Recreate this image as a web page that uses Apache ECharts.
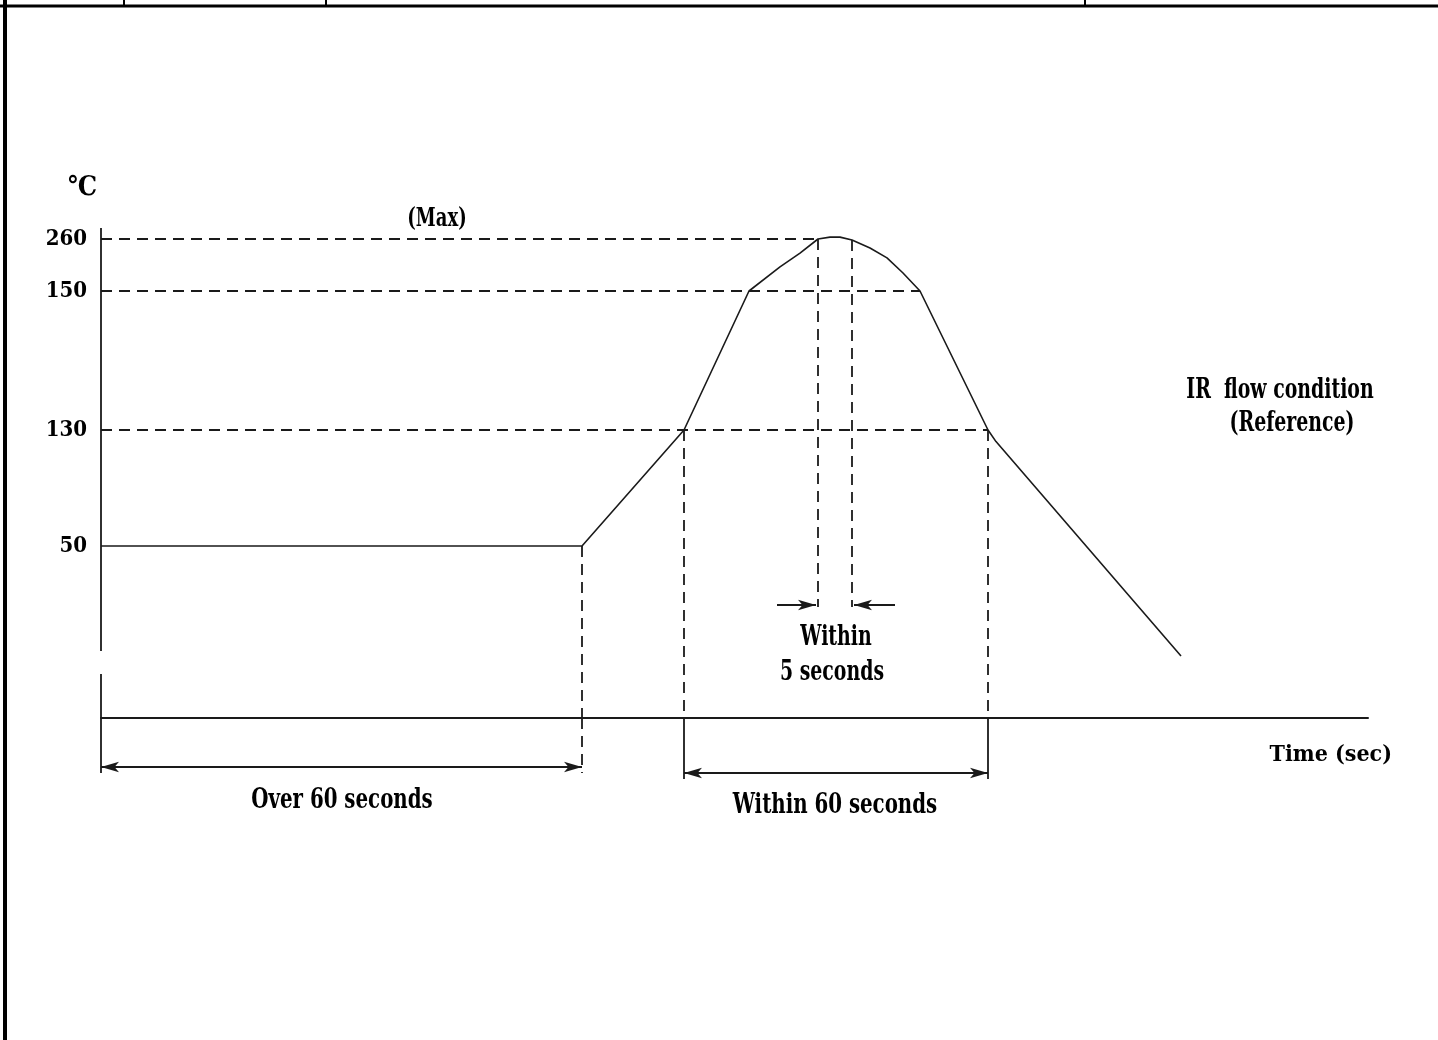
<!DOCTYPE html>
<html><head><meta charset="utf-8">
<script src="https://cdn.jsdelivr.net/npm/echarts@6/dist/echarts.min.js"></script>
<style>html,body{margin:0;padding:0;background:#fff}#c{width:1438px;height:1040px}</style>
</head><body><div id="c"></div>
<script>
// ---------------- data ----------------
const timeSec = [0, 48.1, 58.3, 64.8, 67.9, 69.9, 71.7, 72.9, 73.9, 75.1, 76.9, 78.6, 80.2, 81.9, 88.7, 89.5, 108.0];
const tempC   = [50, 50, 130, 150, 201, 230, 260, 264, 264, 258, 241, 220, 188, 150, 130, 122, 18];
const tempTicks = [260, 150, 130, 50];
const guideTemps = [260, 150, 130];
const guideEndTime = [71.7, 81.9, 88.7];
const markerTime = [48.1, 58.3, 71.7, 75.1, 88.7];
const markerTemp = [50, 130, 260, 258, 130];
const spanOver60 = [0, 48.1];
const spanWithin60 = [58.3, 88.7];
const spanWithin5 = [71.7, 75.1];

// ---------------- schematic (non-linear) temperature scale ----------------
const SCALE_T = [0, 50, 130, 150, 260];
const SCALE_L = [0, 172, 288, 427, 479];
function lvl(t) {
  const n = SCALE_T.length;
  for (let i = 1; i < n; i++) {
    if (t <= SCALE_T[i] || i === n - 1) {
      const f = (t - SCALE_T[i - 1]) / (SCALE_T[i] - SCALE_T[i - 1]);
      return SCALE_L[i - 1] + f * (SCALE_L[i] - SCALE_L[i - 1]);
    }
  }
}

// layout constants (in level units of the y axis)
const DIM_OVER = -49, DIM_W60 = -55, DIM_W5 = 113;
const BREAK_LO = 44, BREAK_HI = 67, AXIS_TOP = 490;

const INK = '#1a1a1a';
const FONT = '"DejaVu Serif Condensed","DejaVu Serif","Liberation Serif",serif';
const dashed = { color: INK, width: 1.8, type: [11, 7] };
const solid = { color: INK, width: 1.8, type: 'solid' };

const chart = echarts.init(document.getElementById('c'));

const curve = timeSec.map((t, i) => [t, lvl(tempC[i])]);

function seg(a, b, style, s1, s2, size) {
  return [
    { coord: a, lineStyle: style, symbol: s1 || 'none', symbolSize: size || [8, 18] },
    { coord: b, symbol: s2 || 'none', symbolSize: size || [8, 18] }
  ];
}

const guideLines = [];
guideTemps.forEach((T, i) => guideLines.push(seg([0, lvl(T)], [guideEndTime[i], lvl(T)], dashed)));
markerTime.forEach((t, i) => {
  const top = lvl(markerTemp[i]);
  const inW5 = (t === spanWithin5[0] || t === spanWithin5[1]);
  guideLines.push(seg([t, top], [t, inW5 ? DIM_W5 - 2 : 0], dashed));
});

const frameLines = [];
// schematic y axis with a break
frameLines.push(seg([0, 0], [0, BREAK_LO], solid));
frameLines.push(seg([0, BREAK_HI], [0, AXIS_TOP], solid));
// extension lines below the time axis
frameLines.push(seg([spanOver60[0], 0], [spanOver60[0], DIM_OVER - 6], solid));
frameLines.push(seg([spanOver60[1], 0], [spanOver60[1], DIM_OVER - 6], dashed));
frameLines.push(seg([spanWithin60[0], 0], [spanWithin60[0], DIM_W60 - 6], solid));
frameLines.push(seg([spanWithin60[1], 0], [spanWithin60[1], DIM_W60 - 6], solid));
// dimension lines with arrows
frameLines.push(seg([spanOver60[0], DIM_OVER], [spanOver60[1], DIM_OVER], solid, 'arrow', 'arrow'));
frameLines.push(seg([spanWithin60[0], DIM_W60], [spanWithin60[1], DIM_W60], solid, 'arrow', 'arrow'));
frameLines.push(seg([spanWithin5[0] - 4.1, DIM_W5], [spanWithin5[0] - 0.2, DIM_W5], solid, 'none', 'arrow'));
frameLines.push(seg([spanWithin5[1] + 4.3, DIM_W5], [spanWithin5[1] + 0.2, DIM_W5], solid, 'none', 'arrow'));
// axis break marks
frameLines.push(seg([-1.8, BREAK_LO], [1.9, BREAK_LO], solid));
frameLines.push(seg([-1.8, BREAK_HI], [1.9, BREAK_HI], solid));

function helper(name, lines) {
  return {
    name, type: 'line', data: [[0, 0]], showSymbol: false, symbol: 'none',
    lineStyle: { opacity: 0 }, clip: false, silent: true, animation: false,
    markLine: { silent: true, animation: false, symbol: 'none', label: { show: false },
      emphasis: { disabled: true }, data: lines }
  };
}

function txt(text, cx, cy, size, sy) {
  return {
    type: 'text', x: cx, y: cy, scaleY: sy || 1.3, silent: true,
    style: { text, font: 'bold ' + size + 'px ' + FONT, fill: '#000',
      textAlign: 'center', textVerticalAlign: 'middle', align: 'center', verticalAlign: 'middle' }
  };
}

chart.setOption({
  backgroundColor: '#fff',
  animation: false,
  grid: { left: 101, right: 70, top: 228, bottom: 212 },
  xAxis: {
    type: 'value', min: 0, max: 126.7,
    axisLine: { show: true, onZero: true, lineStyle: { color: INK, width: 2 } },
    axisTick: { show: false }, axisLabel: { show: false }, splitLine: { show: false },
    name: 'Time (sec)', nameLocation: 'end', nameGap: 24,
    nameTextStyle: { fontFamily: FONT, fontWeight: 'bold', fontSize: 23, color: '#000',
      align: 'right', verticalAlign: 'top', padding: [26, 0, 0, 0] }
  },
  yAxis: {
    type: 'value', min: -110, max: AXIS_TOP,
    axisLine: { show: false }, axisTick: { show: false }, splitLine: { show: false },
    axisLabel: {
      show: true, customValues: tempTicks.map(lvl), margin: 14,
      fontFamily: FONT, fontWeight: 'bold', fontSize: 22, color: '#000',
      formatter: v => { const i = tempTicks.findIndex(T => Math.abs(lvl(T) - v) < 0.5); return i >= 0 ? String(tempTicks[i]) : ''; }
    },
    name: '℃', nameLocation: 'end', nameGap: 27,
    nameTextStyle: { fontFamily: FONT, fontWeight: 'bold', fontSize: 27, color: '#000',
      align: 'right', verticalAlign: 'bottom', padding: [0, 4, 0, 0] }
  },
  series: [
    { name: 'Temperature', type: 'line', data: curve, showSymbol: false, symbol: 'none',
      clip: false, silent: true, lineStyle: { color: INK, width: 1.6 } },
    helper('guides', guideLines),
    helper('frame', frameLines)
  ],
  graphic: [
    { type: 'line', silent: true, shape: { x1: 0, y1: 6, x2: 1438, y2: 6 }, style: { stroke: '#000', lineWidth: 3 } },
    { type: 'line', silent: true, shape: { x1: 5, y1: 0, x2: 5, y2: 1040 }, style: { stroke: '#000', lineWidth: 4 } },
    { type: 'line', silent: true, shape: { x1: 124, y1: 0, x2: 124, y2: 6 }, style: { stroke: '#000', lineWidth: 2 } },
    { type: 'line', silent: true, shape: { x1: 326, y1: 0, x2: 326, y2: 6 }, style: { stroke: '#000', lineWidth: 2 } },
    { type: 'line', silent: true, shape: { x1: 1085, y1: 0, x2: 1085, y2: 6 }, style: { stroke: '#000', lineWidth: 2 } },
    txt('(Max)', 437, 219, 20, 1.3),
    txt('IR  flow condition', 1280, 391, 21, 1.3),
    txt('(Reference)', 1292, 424, 21, 1.3),
    txt('Within', 836, 638, 21, 1.3),
    txt('5 seconds', 832, 673, 21, 1.3),
    txt('Over 60 seconds', 342, 801, 22, 1.3),
    txt('Within 60 seconds', 835, 806, 22, 1.3)
  ]
});
</script></body></html>
